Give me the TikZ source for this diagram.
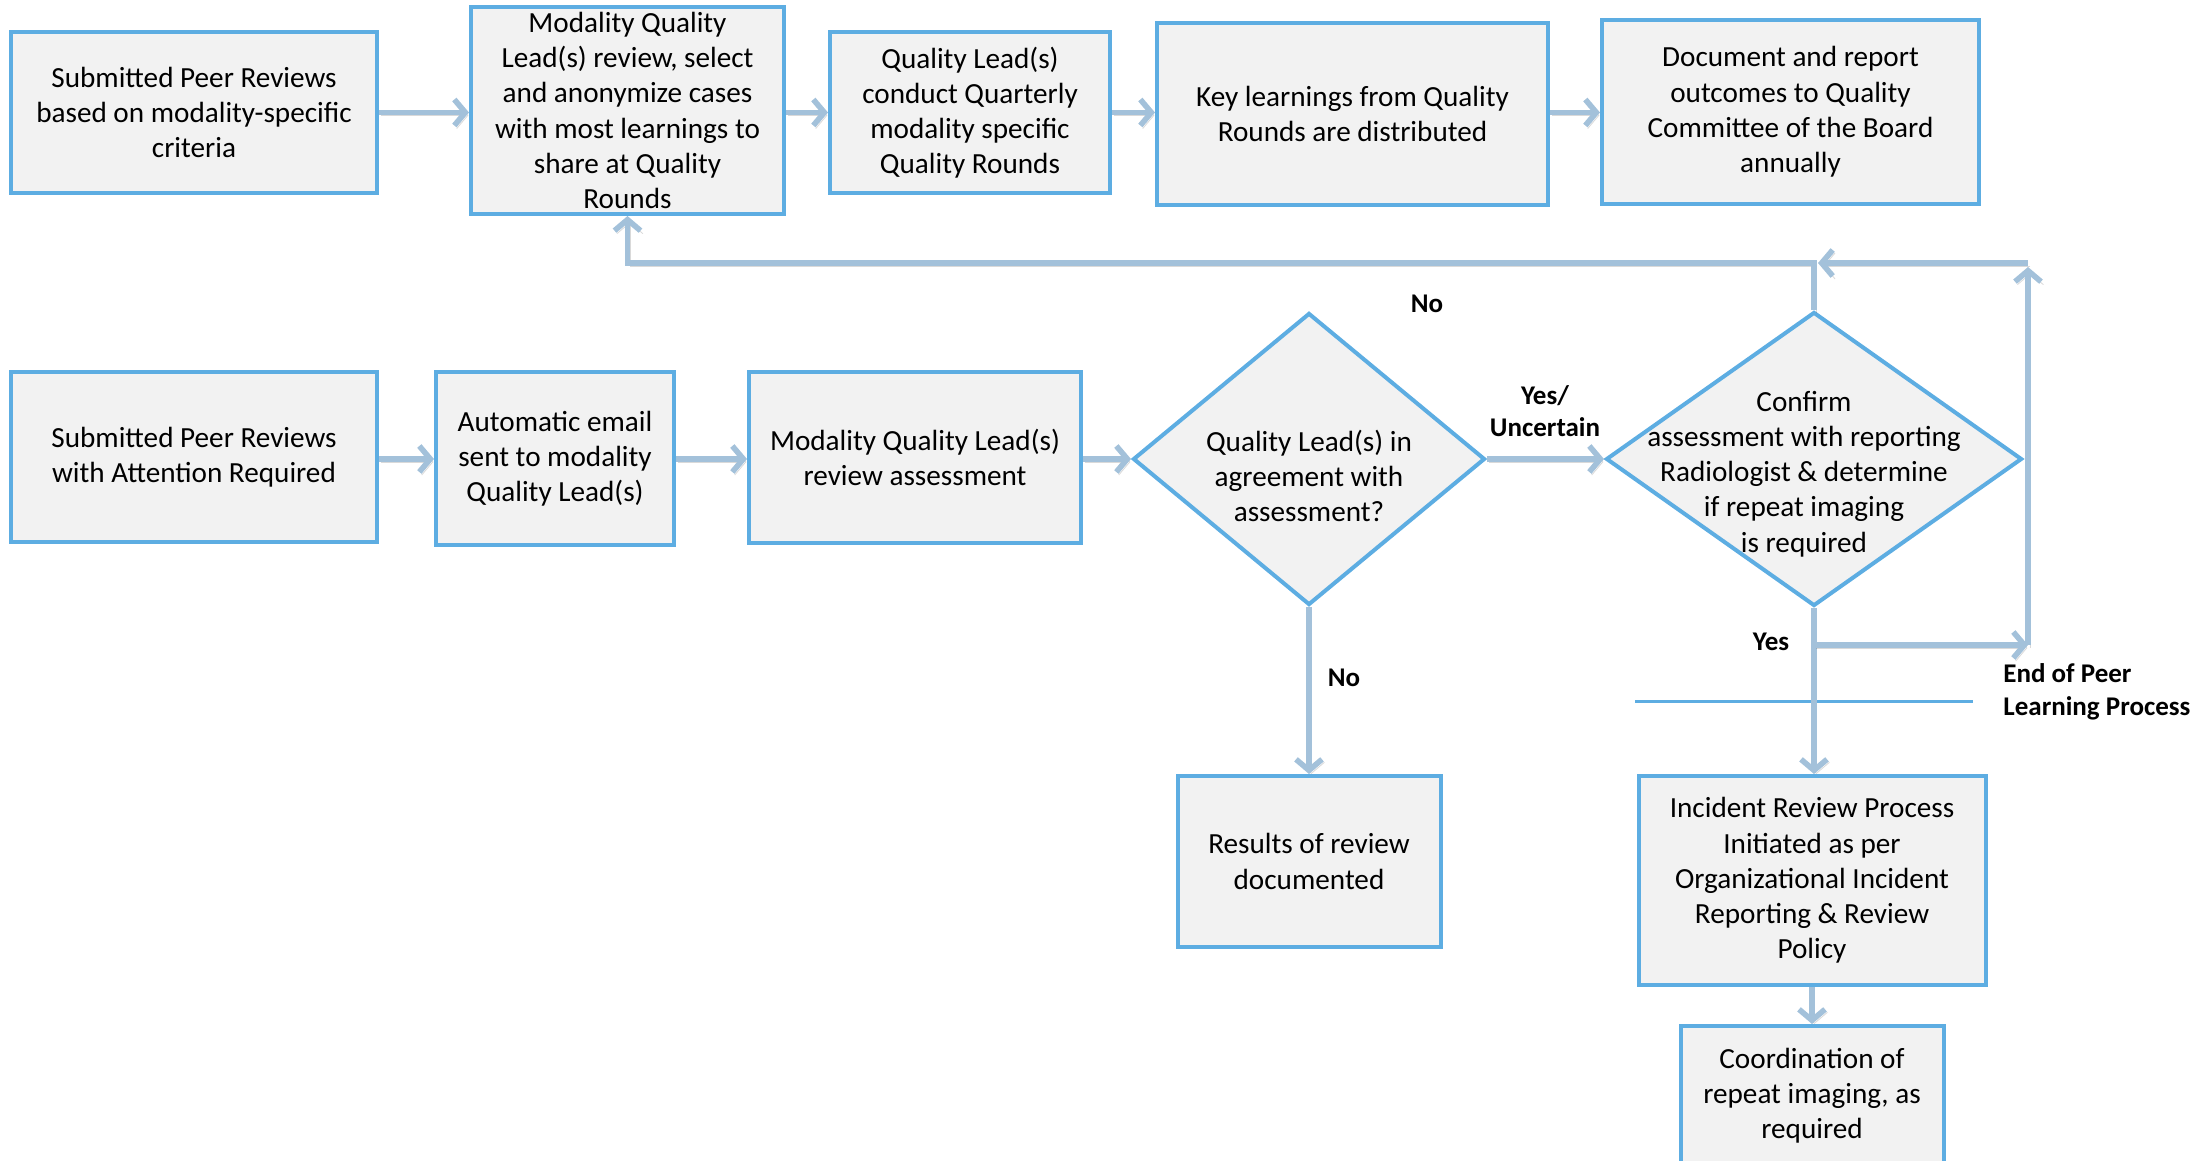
\documentclass[tikz,border=0pt]{standalone}
\usepackage{fontspec}
\setmainfont{Carlito}
\usetikzlibrary{arrows.meta,shapes.geometric}
\definecolor{boxblue}{RGB}{93,173,226}
\definecolor{boxfill}{RGB}{242,242,242}
\definecolor{arrowc}{RGB}{163,193,218}
\tikzset{
  box/.style={draw=boxblue, line width=2pt, fill=boxfill, align=center, inner sep=0pt,
    font=\fontsize{14.6}{17.6}\selectfont},
  dia/.style={shape=diamond, draw=boxblue, line width=2pt, fill=boxfill, inner sep=0pt},
  diatext/.style={align=center, inner sep=0pt, font=\fontsize{14.6}{17.6}\selectfont},
  lbl/.style={font=\fontsize{13.5}{16.2}\selectfont\bfseries, inner sep=0pt},
  flow/.style={draw=arrowc, line width=2.8pt,
    -{Straight Barb[length=5.5pt,width=13pt]},
    preaction={draw=black!60, opacity=0.25, transform canvas={shift={(1.2pt,-1.5pt)}}}},
}
\begin{document}
\begin{tikzpicture}[x=0.5pt,y=-0.5pt]
\useasboundingbox (0,0) rectangle (2207,1161);
% top row
\node[box, minimum width=183pt, minimum height=80.5pt] (a1) at (194,112.5)
  {Submitted Peer Reviews\\based on modality-specific\\criteria};
\node[box, minimum width=156.5pt, minimum height=103.5pt] (a2) at (627.5,110.5)
  {Modality Quality\\Lead(s) review, select\\and anonymize cases\\with most learnings to\\share at Quality\\Rounds};
\node[box, minimum width=140pt, minimum height=80.5pt] (a3) at (970,112.5)
  {Quality Lead(s)\\conduct Quarterly\\modality specific\\Quality Rounds};
\node[box, minimum width=195.5pt, minimum height=91pt] (a4) at (1352.5,114)
  {Key learnings from Quality\\Rounds are distributed};
\node[box, minimum width=188.5pt, minimum height=92pt] (a5) at (1790.5,112)
  {Document and report\\outcomes to Quality\\Committee of the Board\\annually};
% second row
\node[box, minimum width=183pt, minimum height=85pt] (b1) at (194,457)
  {Submitted Peer Reviews\\with Attention Required};
\node[box, minimum width=119pt, minimum height=86.5pt] (b2) at (555,458.5)
  {Automatic email\\sent to modality\\Quality Lead(s)};
\node[box, minimum width=166pt, minimum height=85.5pt] (b3) at (915,457.5)
  {Modality Quality Lead(s)\\review assessment};
\node[dia, minimum width=176pt, minimum height=146pt] (d1) at (1309,459) {};
\node[diatext] (d1t) at (1309,476) {Quality Lead(s) in\\agreement with\\assessment?};
\node[dia, minimum width=208pt, minimum height=147pt] (d2) at (1814,459) {};
\node[diatext] (d2t) at (1804,474) {Confirm\\assessment with reporting\\Radiologist \& determine\\if repeat imaging\\is required};
% lower boxes
\node[box, minimum width=131.5pt, minimum height=85.5pt] (r) at (1309,861.5)
  {Results of review\\documented};
\node[box, minimum width=173.5pt, minimum height=104.5pt] (inc) at (1812,880.5)
  {Incident Review Process\\Initiated as per\\Organizational Incident\\Reporting \& Review\\Policy};
\node[box, minimum width=131.5pt, minimum height=70pt] (co) at (1812,1096)
  {Coordination of\\repeat imaging, as\\required};
% helper coordinates
\coordinate (fbR) at (2028,263);
\coordinate (fbRt) at (2028,267);
\coordinate (fbY) at (2028,645);
\coordinate (hl1) at (1635,701);
\coordinate (hl2) at (1973,701);
% divider line
\draw[boxblue, line width=1.5pt] (hl1) -- (hl2);
% top row arrows
\path[flow] (a1.east) -- (a1.east -| a2.west);
\path[flow] (a2.east |- a3.east) -- (a3.west);
\path[flow] (a3.east) -- (a3.east -| a4.west);
\path[flow] (a4.east |- a3.east) -- (a3.east -| a5.west);
% second row arrows
\path[flow] (b1.east |- d1.west) -- (d1.west -| b2.west);
\path[flow] (b2.east |- d1.west) -- (d1.west -| b3.west);
\path[flow] (b3.east |- d1.west) -- (d1.west);
\path[flow] (d1.east) -- (d2.west);
\path[flow] (d1.south) -- (d1.south |- r.north);
\path[flow] (d2.south) -- (d2.south |- inc.north);
\path[flow] (inc.south) -- (co.north);
% feedback loop
\path[flow] (d2.north) -- (d2.north |- fbR) -| (a2.south);
\path[flow] (d2.south |- fbY) -- (fbY);
\path[flow] (fbY) -- (fbRt);
\path[flow] (fbR) -- ([xshift=2pt]d2.north |- fbR);
% labels
\node[lbl] (lno1) at (1427,304) {No};
\node[lbl, align=center] (lyu) at (1545,411) {Yes/\\Uncertain};
\node[lbl] (lno2) at (1344,678) {No};
\node[lbl] (lyes) at (1771,642) {Yes};
\node[lbl, align=left, anchor=west] (lend) at (2003,692) {End of Peer\\Learning Process};
\end{tikzpicture}
\end{document}
